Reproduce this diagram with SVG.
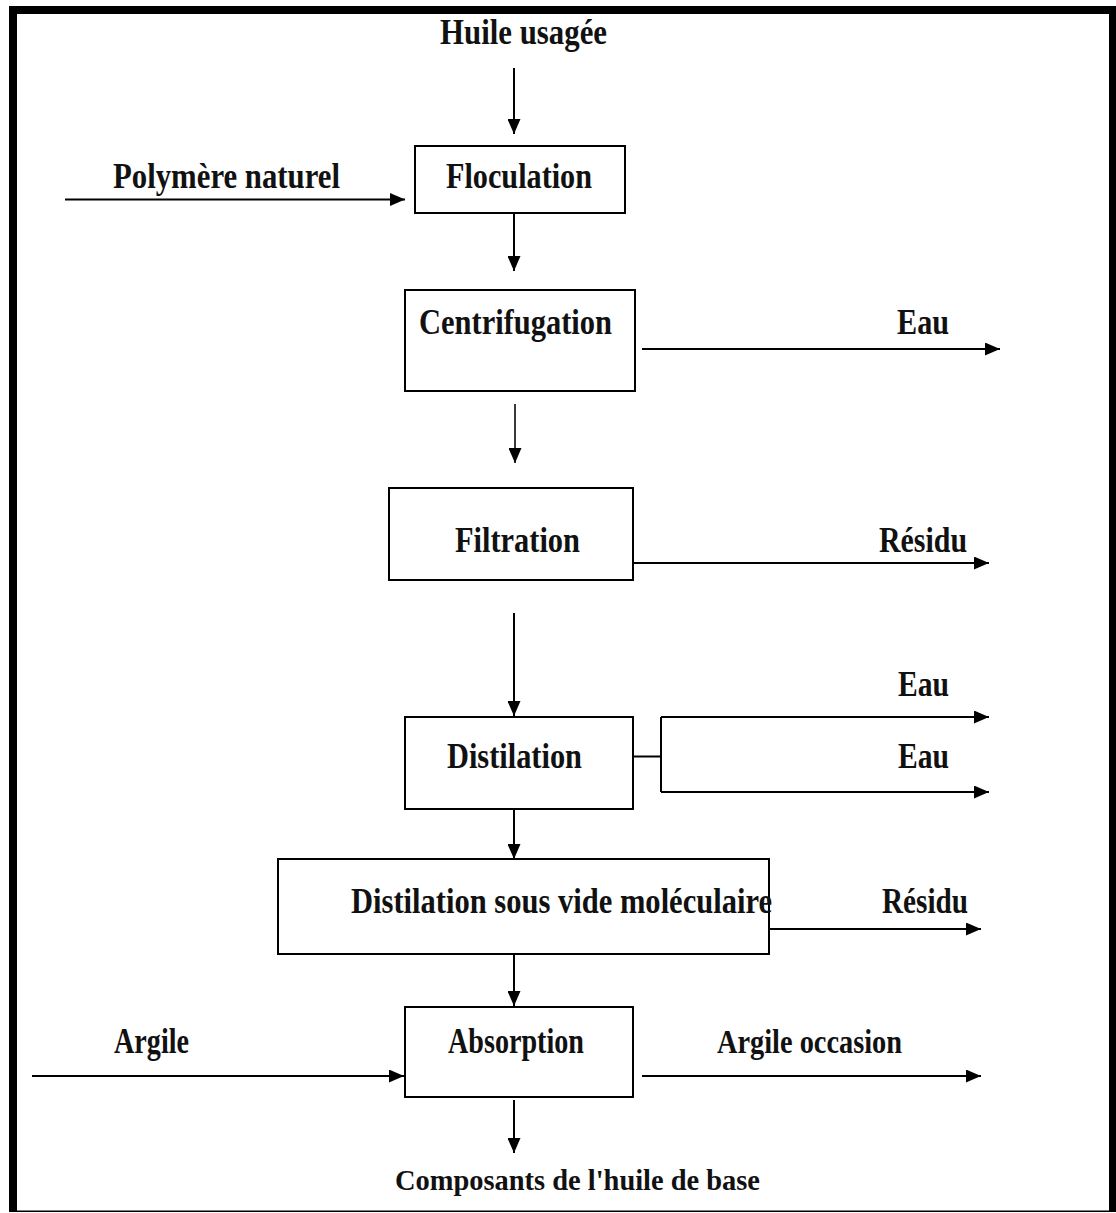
<svg xmlns="http://www.w3.org/2000/svg" width="1116" height="1213" viewBox="0 0 1116 1213">
  <style>
    .box { fill: #ffffff; stroke: #000000; stroke-width: 2; }
    .lbl { font-family: "Liberation Serif", "Times New Roman", serif; font-weight: bold; font-size: 35px; fill: #111111; }
    .lbl2 { font-family: "Liberation Serif", "Times New Roman", serif; font-weight: bold; font-size: 30px; fill: #111111; }
    .lbl3 { font-family: "Liberation Serif", "Times New Roman", serif; font-weight: bold; font-size: 33px; fill: #111111; }
    .flow { fill: none; stroke: #000000; stroke-width: 2; }
    .frame { fill: #000000; }
  </style>
  <defs>
    <marker id="arrow" viewBox="0 0 15 13" refX="15" refY="6.5" markerWidth="15" markerHeight="13" markerUnits="userSpaceOnUse" orient="auto">
      <path d="M0,0 L15,6.5 L0,13 Z" fill="#000000"/>
    </marker>
  </defs>

  <rect width="1116" height="1213" fill="#ffffff"/>

  <!-- page frame: heavy left, top and right edges, thin bottom edge -->
  <g id="frame">
    <rect class="frame" x="9" y="6" width="8" height="1206"/>
    <rect class="frame" x="9" y="6" width="1107" height="8"/>
    <rect class="frame" x="1109" y="6" width="7" height="1206"/>
    <rect class="frame" x="9" y="1210.5" width="1107" height="1.5"/>
  </g>

  <!-- connectors -->
  <g id="connectors" class="flow" marker-end="url(#arrow)">
    <line x1="514" y1="68" x2="514" y2="134"/>
    <line x1="65" y1="199.5" x2="405" y2="199.5"/>
    <line x1="514" y1="214" x2="514" y2="271"/>
    <line x1="642" y1="349" x2="1000" y2="349"/>
    <line x1="515" y1="404" x2="515" y2="463" stroke="#3a3a3a"/>
    <line x1="633" y1="563" x2="989" y2="563"/>
    <line x1="514" y1="613" x2="514" y2="716"/>
    <line x1="661" y1="717" x2="989" y2="717"/>
    <line x1="661" y1="792" x2="989" y2="792"/>
    <line x1="514" y1="809" x2="514" y2="859"/>
    <line x1="769" y1="929" x2="981" y2="929"/>
    <line x1="514" y1="954" x2="514" y2="1006"/>
    <line x1="32" y1="1076" x2="404" y2="1076"/>
    <line x1="642" y1="1076" x2="981" y2="1076"/>
    <line x1="514" y1="1100" x2="514" y2="1153"/>
  </g>
  <!-- split of the distillation outlet -->
  <path id="distil-split" class="flow" d="M633,756.5 H661 V717 M661,756.5 V792"/>

  <!-- inputs and outputs -->
  <g id="in-huile"><text class="lbl" x="440" y="44" textLength="167" lengthAdjust="spacingAndGlyphs">Huile usagée</text></g>
  <g id="in-polymere"><text class="lbl" x="113" y="188" textLength="227" lengthAdjust="spacingAndGlyphs">Polymère naturel</text></g>
  <g id="out-eau-1"><text class="lbl" x="897" y="334" textLength="52" lengthAdjust="spacingAndGlyphs">Eau</text></g>
  <g id="out-residu-1"><text class="lbl" x="879" y="552" textLength="88" lengthAdjust="spacingAndGlyphs">Résidu</text></g>
  <g id="out-eau-2"><text class="lbl" x="898" y="696" textLength="51" lengthAdjust="spacingAndGlyphs">Eau</text></g>
  <g id="out-eau-3"><text class="lbl" x="898" y="768" textLength="51" lengthAdjust="spacingAndGlyphs">Eau</text></g>
  <g id="out-residu-2"><text class="lbl" x="882" y="913" textLength="86" lengthAdjust="spacingAndGlyphs">Résidu</text></g>
  <g id="in-argile"><text class="lbl" x="114" y="1053" textLength="75" lengthAdjust="spacingAndGlyphs">Argile</text></g>
  <g id="out-argile"><text class="lbl3" x="717" y="1053" textLength="185" lengthAdjust="spacingAndGlyphs">Argile occasion</text></g>
  <g id="out-composants"><text class="lbl2" x="395" y="1190" textLength="365" lengthAdjust="spacingAndGlyphs">Composants de l'huile de base</text></g>

  <!-- process steps -->
  <g id="floculation">
    <rect class="box" x="415" y="146" width="210" height="67"/>
    <text class="lbl" x="446" y="188" textLength="146" lengthAdjust="spacingAndGlyphs">Floculation</text>
  </g>
  <g id="centrifugation">
    <rect class="box" x="405" y="290" width="230" height="101"/>
    <text class="lbl" x="419" y="334" textLength="193" lengthAdjust="spacingAndGlyphs">Centrifugation</text>
  </g>
  <g id="filtration">
    <rect class="box" x="389" y="488" width="244" height="92"/>
    <text class="lbl" x="455" y="552" textLength="125" lengthAdjust="spacingAndGlyphs">Filtration</text>
  </g>
  <g id="distilation">
    <rect class="box" x="405" y="717" width="228" height="92"/>
    <text class="lbl" x="447" y="768" textLength="135" lengthAdjust="spacingAndGlyphs">Distilation</text>
  </g>
  <g id="distilation-vide">
    <rect class="box" x="278" y="859" width="491" height="95"/>
    <text class="lbl" x="351" y="913" textLength="421" lengthAdjust="spacingAndGlyphs">Distilation sous vide moléculaire</text>
  </g>
  <g id="absorption">
    <rect class="box" x="405" y="1007" width="228" height="90"/>
    <text class="lbl" x="448" y="1053" textLength="136" lengthAdjust="spacingAndGlyphs">Absorption</text>
  </g>
</svg>
